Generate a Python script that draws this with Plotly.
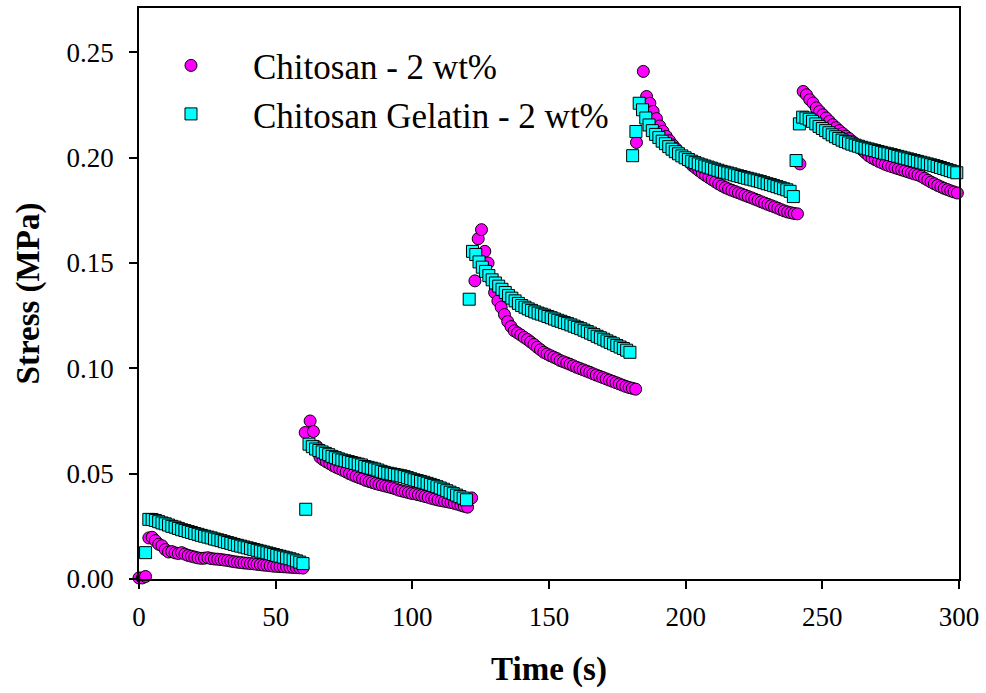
import plotly.graph_objects as go

# Stress relaxation record: each step is listed as (start time in s, stresses in MPa)
# sampled every SAMPLE_STEP seconds.
SAMPLE_STEP = 1.2

chitosan_steps = [
    (0.0, [0.0005, 0.0005, 0.0012, 0.0195, 0.0198, 0.0182, 0.0165, 0.0158, 0.0140, 0.0128,
           0.0130, 0.0124, 0.0121, 0.0125, 0.0118, 0.0112, 0.0108, 0.0104, 0.0100, 0.0098,
           0.0099, 0.0101, 0.0097, 0.0095, 0.0094, 0.0092, 0.0090, 0.0088, 0.0085, 0.0082,
           0.0080, 0.0078, 0.0076, 0.0075, 0.0073, 0.0072, 0.0070, 0.0068, 0.0066, 0.0065,
           0.0063, 0.0061, 0.0060, 0.0059, 0.0058, 0.0057, 0.0056, 0.0055, 0.0054, 0.0053,
           0.0052]),
    (60.8, [0.0695]),
    (62.6, [0.0750, 0.0700, 0.0630, 0.0578, 0.0566, 0.0556, 0.0547, 0.0538, 0.0530, 0.0523,
            0.0516, 0.0508, 0.0500, 0.0493, 0.0487, 0.0481, 0.0475, 0.0468, 0.0463, 0.0458,
            0.0453, 0.0449, 0.0445, 0.0441, 0.0437, 0.0433, 0.0428, 0.0422, 0.0418, 0.0414,
            0.0410, 0.0406, 0.0404, 0.0400, 0.0396, 0.0392, 0.0388, 0.0383, 0.0379, 0.0375,
            0.0372, 0.0369, 0.0366, 0.0363, 0.0359, 0.0355, 0.0350, 0.0345, 0.0341]),
    (121.7, [0.0385]),
    (122.9, [0.1415, 0.1615, 0.1658, 0.1555, 0.1500, 0.1420, 0.1360, 0.1320, 0.1290, 0.1255,
             0.1222, 0.1198, 0.1178, 0.1168, 0.1158, 0.1147, 0.1137, 0.1125, 0.1113, 0.1100,
             0.1088, 0.1076, 0.1068, 0.1060, 0.1053, 0.1046, 0.1037, 0.1031, 0.1025, 0.1019,
             0.1012, 0.1005, 0.0999, 0.0993, 0.0987, 0.0981, 0.0974, 0.0968, 0.0962, 0.0956,
             0.0950, 0.0944, 0.0938, 0.0932, 0.0926, 0.0920, 0.0914, 0.0909, 0.0905, 0.0901]),
    (182.0, [0.2072]),
    (184.5, [0.2409, 0.2290, 0.2258, 0.2219, 0.2185, 0.2150, 0.2125, 0.2101, 0.2080, 0.2060,
             0.2042, 0.2025, 0.2008, 0.1993, 0.1978, 0.1962, 0.1950, 0.1938, 0.1926, 0.1915,
             0.1905, 0.1895, 0.1885, 0.1875, 0.1866, 0.1858, 0.1851, 0.1845, 0.1839, 0.1833,
             0.1827, 0.1821, 0.1815, 0.1809, 0.1803, 0.1797, 0.1790, 0.1784, 0.1778, 0.1772,
             0.1766, 0.1760, 0.1753, 0.1747, 0.1742, 0.1738, 0.1735, 0.1733]),
    (241.8, [0.1970]),
    (243.0, [0.2314, 0.2298, 0.2275, 0.2259, 0.2236, 0.2219, 0.2203, 0.2188, 0.2172, 0.2156,
             0.2142, 0.2128, 0.2115, 0.2102, 0.2090, 0.2077, 0.2064, 0.2050, 0.2036, 0.2022,
             0.2008, 0.1998, 0.1990, 0.1982, 0.1975, 0.1968, 0.1962, 0.1957, 0.1952, 0.1947,
             0.1942, 0.1937, 0.1932, 0.1927, 0.1922, 0.1918, 0.1911, 0.1902, 0.1893, 0.1884,
             0.1876, 0.1868, 0.1861, 0.1854, 0.1848, 0.1842, 0.1837, 0.1832]),
]

gelatin_steps = [
    (2.4, [0.0125]),
    (3.6, [0.0283, 0.0282, 0.0278, 0.0272, 0.0266, 0.0262, 0.0256, 0.0250, 0.0246, 0.0240,
           0.0234, 0.0230, 0.0225, 0.0221, 0.0216, 0.0212, 0.0207, 0.0203, 0.0199, 0.0195,
           0.0190, 0.0186, 0.0182, 0.0177, 0.0173, 0.0169, 0.0164, 0.0160, 0.0156, 0.0152,
           0.0148, 0.0144, 0.0140, 0.0136, 0.0132, 0.0128, 0.0124, 0.0120, 0.0116, 0.0112,
           0.0108, 0.0104, 0.0100, 0.0096, 0.0091, 0.0086, 0.0080, 0.0073]),
    (61.0, [0.0331]),
    (62.2, [0.0640, 0.0628, 0.0617, 0.0610, 0.0603, 0.0596, 0.0590, 0.0582, 0.0576, 0.0570,
            0.0565, 0.0561, 0.0557, 0.0553, 0.0549, 0.0545, 0.0541, 0.0534, 0.0530, 0.0526,
            0.0522, 0.0517, 0.0511, 0.0506, 0.0502, 0.0499, 0.0496, 0.0493, 0.0490, 0.0486,
            0.0481, 0.0476, 0.0471, 0.0467, 0.0463, 0.0459, 0.0454, 0.0449, 0.0444, 0.0438,
            0.0432, 0.0426, 0.0419, 0.0412, 0.0405, 0.0398, 0.0391, 0.0384, 0.0376]),
    (120.8, [0.1328, 0.1555, 0.1540, 0.1505, 0.1480, 0.1460, 0.1440, 0.1420, 0.1405, 0.1390,
             0.1375, 0.1360, 0.1345, 0.1333, 0.1320, 0.1308, 0.1298, 0.1290, 0.1282, 0.1275,
             0.1268, 0.1262, 0.1257, 0.1252, 0.1246, 0.1240, 0.1234, 0.1228, 0.1223, 0.1217,
             0.1212, 0.1206, 0.1200, 0.1194, 0.1188, 0.1181, 0.1174, 0.1167, 0.1160, 0.1152,
             0.1145, 0.1138, 0.1130, 0.1123, 0.1116, 0.1108, 0.1101, 0.1094, 0.1086, 0.1076]),
    (180.6, [0.2009, 0.2124, 0.2258, 0.2227, 0.2188, 0.2155, 0.2128, 0.2110, 0.2095, 0.2078,
             0.2066, 0.2052, 0.2040, 0.2028, 0.2018, 0.2008, 0.1999, 0.1991, 0.1983, 0.1976,
             0.1970, 0.1965, 0.1960, 0.1955, 0.1950, 0.1945, 0.1940, 0.1935, 0.1931, 0.1927,
             0.1923, 0.1918, 0.1914, 0.1910, 0.1906, 0.1902, 0.1898, 0.1894, 0.1890, 0.1886,
             0.1881, 0.1876, 0.1872, 0.1867, 0.1862, 0.1857, 0.1852, 0.1847, 0.1840, 0.1815]),
    (240.4, [0.1986]),
    (241.6, [0.2160, 0.2192, 0.2188, 0.2182, 0.2172, 0.2160, 0.2148, 0.2138, 0.2128, 0.2118,
             0.2108, 0.2099, 0.2091, 0.2083, 0.2076, 0.2070, 0.2064, 0.2059, 0.2054, 0.2049,
             0.2045, 0.2041, 0.2037, 0.2033, 0.2029, 0.2025, 0.2021, 0.2018, 0.2014, 0.2010,
             0.2006, 0.2002, 0.1998, 0.1994, 0.1990, 0.1986, 0.1982, 0.1978, 0.1974, 0.1970,
             0.1966, 0.1962, 0.1958, 0.1953, 0.1948, 0.1943, 0.1938, 0.1933, 0.1928]),
]

series_names = ["Chitosan - 2 wt%", "Chitosan Gelatin - 2 wt%"]
x_ticks = [0, 50, 100, 150, 200, 250, 300]
y_ticks = [0.00, 0.05, 0.10, 0.15, 0.20, 0.25]


def unpack(steps):
    times, stresses = [], []
    for t0, values in steps:
        for i, v in enumerate(values):
            times.append(round(t0 + SAMPLE_STEP * i, 2))
            stresses.append(v)
    return times, stresses


FONT = "Liberation Serif"

fig = go.Figure()
for name, steps, symbol, fill in [
    (series_names[0], chitosan_steps, "circle", "#FF00FF"),
    (series_names[1], gelatin_steps, "square", "#00FFFF"),
]:
    t, s = unpack(steps)
    fig.add_trace(go.Scatter(
        x=t, y=s, mode="markers", name=name, cliponaxis=False,
        marker=dict(symbol=symbol, size=12, color=fill,
                    line=dict(color="black", width=1)),
    ))

axis_common = dict(
    showline=True, linecolor="black", linewidth=1.5, mirror=True,
    ticks="outside", ticklen=8, tickwidth=1.5, tickcolor="black",
    showgrid=False, zeroline=False,
    tickfont=dict(family=FONT, size=27, color="black"),
)

fig.update_layout(
    width=986, height=693,
    margin=dict(l=139, r=27, t=6, b=114),
    paper_bgcolor="white", plot_bgcolor="white",
    font=dict(family=FONT, color="black"),
    xaxis=dict(range=[0, 300], tickvals=x_ticks, ticklabelstandoff=5,
               title=dict(text="Time (s)", standoff=26,
                          font=dict(family=FONT, size=33, weight="bold")),
               **axis_common),
    yaxis=dict(range=[0, 0.271], tickvals=y_ticks, tickformat=".2f",
               ticklabelstandoff=10,
               title=dict(text="Stress (MPa)", standoff=17,
                          font=dict(family=FONT, size=33, weight="bold")),
               **axis_common),
    legend=dict(x=-0.0122, y=0.9507, xanchor="left", yanchor="top",
                bgcolor="rgba(0,0,0,0)", itemwidth=114,
                font=dict(family=FONT, size=35, color="black")),
    showlegend=True,
)

fig.write_html("out.html")
